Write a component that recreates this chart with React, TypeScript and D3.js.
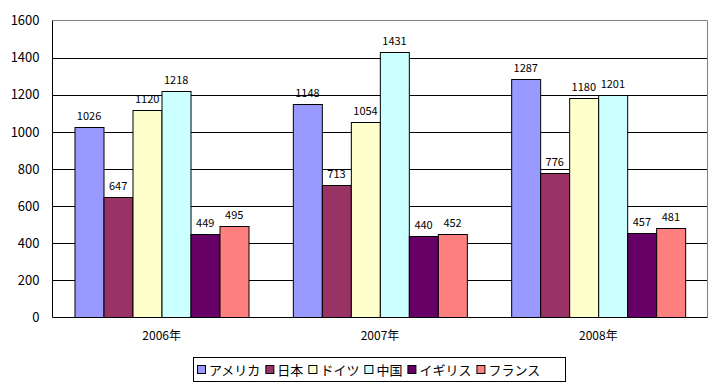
import React, { useEffect, useRef } from 'react';
import * as d3 from 'd3';

const years = ['2006年', '2007年', '2008年'];
const countries = ['アメリカ', '日本', 'ドイツ', '中国', 'イギリス', 'フランス'];
const colors = ['#9999ff', '#993366', '#ffffcc', '#ccffff', '#660066', '#ff8080'];
const america = [1026, 1148, 1287];
const japan = [647, 713, 776];
const germany = [1120, 1054, 1180];
const china = [1218, 1431, 1201];
const uk = [449, 440, 457];
const france = [495, 452, 481];
const yTicks = [0, 200, 400, 600, 800, 1000, 1200, 1400, 1600];

const App = () => {
  const ref = useRef<SVGSVGElement>(null);

  useEffect(() => {
    const series = [america, japan, germany, china, uk, france];
    const font = '"Noto Sans CJK JP", "DejaVu Sans", sans-serif';
    const svg = d3.select(ref.current);
    svg.selectAll('*').remove();

    const left = 52.5, right = 707.5, top = 20.5, bottom = 317.5;

    const x = d3.scaleBand().domain(years).range([left, right]);
    const x1 = d3.scaleBand().domain(countries).range([0, x.bandwidth()]).paddingOuter(0.76);
    const y = d3.scaleLinear().domain([0, 1600]).range([bottom, top]);

    // grid lines
    svg.append('g')
      .selectAll('line')
      .data(yTicks.slice(1, -1))
      .join('line')
      .attr('x1', left).attr('x2', right)
      .attr('y1', d => Math.round(y(d)) + 0.5).attr('y2', d => Math.round(y(d)) + 0.5)
      .attr('stroke', '#000');

    // plot border top/right
    svg.append('path')
      .attr('d', `M${left},${top}H${right}V${bottom}`)
      .attr('fill', 'none').attr('stroke', '#808080');

    // bars
    const groups = svg.append('g')
      .selectAll('g')
      .data(years)
      .join('g')
      .attr('transform', d => `translate(${x(d)},0)`);

    groups.each(function (_, i) {
      const g = d3.select(this);
      const vals = countries.map((c, k) => ({ c, v: series[k][i], k }));
      g.selectAll('rect')
        .data(vals)
        .join('rect')
        .attr('x', d => Math.round(x1(d.c)!) + 0.5)
        .attr('y', d => Math.round(y(d.v)) + 0.5)
        .attr('width', Math.round(x1.bandwidth()))
        .attr('height', d => bottom - Math.round(y(d.v)) - 0.5)
        .attr('fill', d => colors[d.k])
        .attr('stroke', '#000');
      g.selectAll('text')
        .data(vals)
        .join('text')
        .attr('x', d => x1(d.c)! + x1.bandwidth() / 2)
        .attr('y', d => y(d.v) - 7)
        .attr('text-anchor', 'middle')
        .attr('font-family', font)
        .attr('font-size', 11)
        .text(d => d.v);
    });

    // axes
    const yAxis = svg.append('g')
      .attr('transform', `translate(${left},0)`)
      .call(d3.axisLeft(y).tickValues(yTicks).tickFormat(d3.format('d')).tickSize(0).tickPadding(13));
    yAxis.selectAll('text').attr('font-family', font).attr('font-size', 13).attr('fill', '#000');
    yAxis.select('.domain').attr('stroke', '#000').attr('d', `M0,${top}V${bottom}`);

    const xAxis = svg.append('g')
      .attr('transform', `translate(0,${bottom})`)
      .call(d3.axisBottom(x).tickSize(0).tickPadding(14));
    xAxis.selectAll('text').attr('font-family', font).attr('font-size', 12).attr('fill', '#000');
    xAxis.select('.domain').attr('stroke', '#000').attr('d', `M${left},0H${right}`);

    // legend
    const legend = svg.append('g');
    legend.append('rect')
      .attr('x', 193.5).attr('y', 357.5).attr('width', 372).attr('height', 24)
      .attr('fill', '#fff').attr('stroke', '#000');
    let lx = 197;
    countries.forEach((c, k) => {
      legend.append('rect')
        .attr('x', lx + 0.5).attr('y', 365.5).attr('width', 8).attr('height', 8)
        .attr('fill', colors[k]).attr('stroke', '#000');
      const t = legend.append('text')
        .attr('x', lx + 12).attr('y', 374.5)
        .attr('font-family', font).attr('font-size', 13)
        .text(c);
      const w = (t.node() as SVGTextElement).getComputedTextLength();
      lx += 12 + w + 5;
    });
  }, []);

  return (
    <svg ref={ref} width={712} height={387} style={{ position: 'absolute', left: 0, top: 0, background: '#fff' }} />
  );
};

export default App;
